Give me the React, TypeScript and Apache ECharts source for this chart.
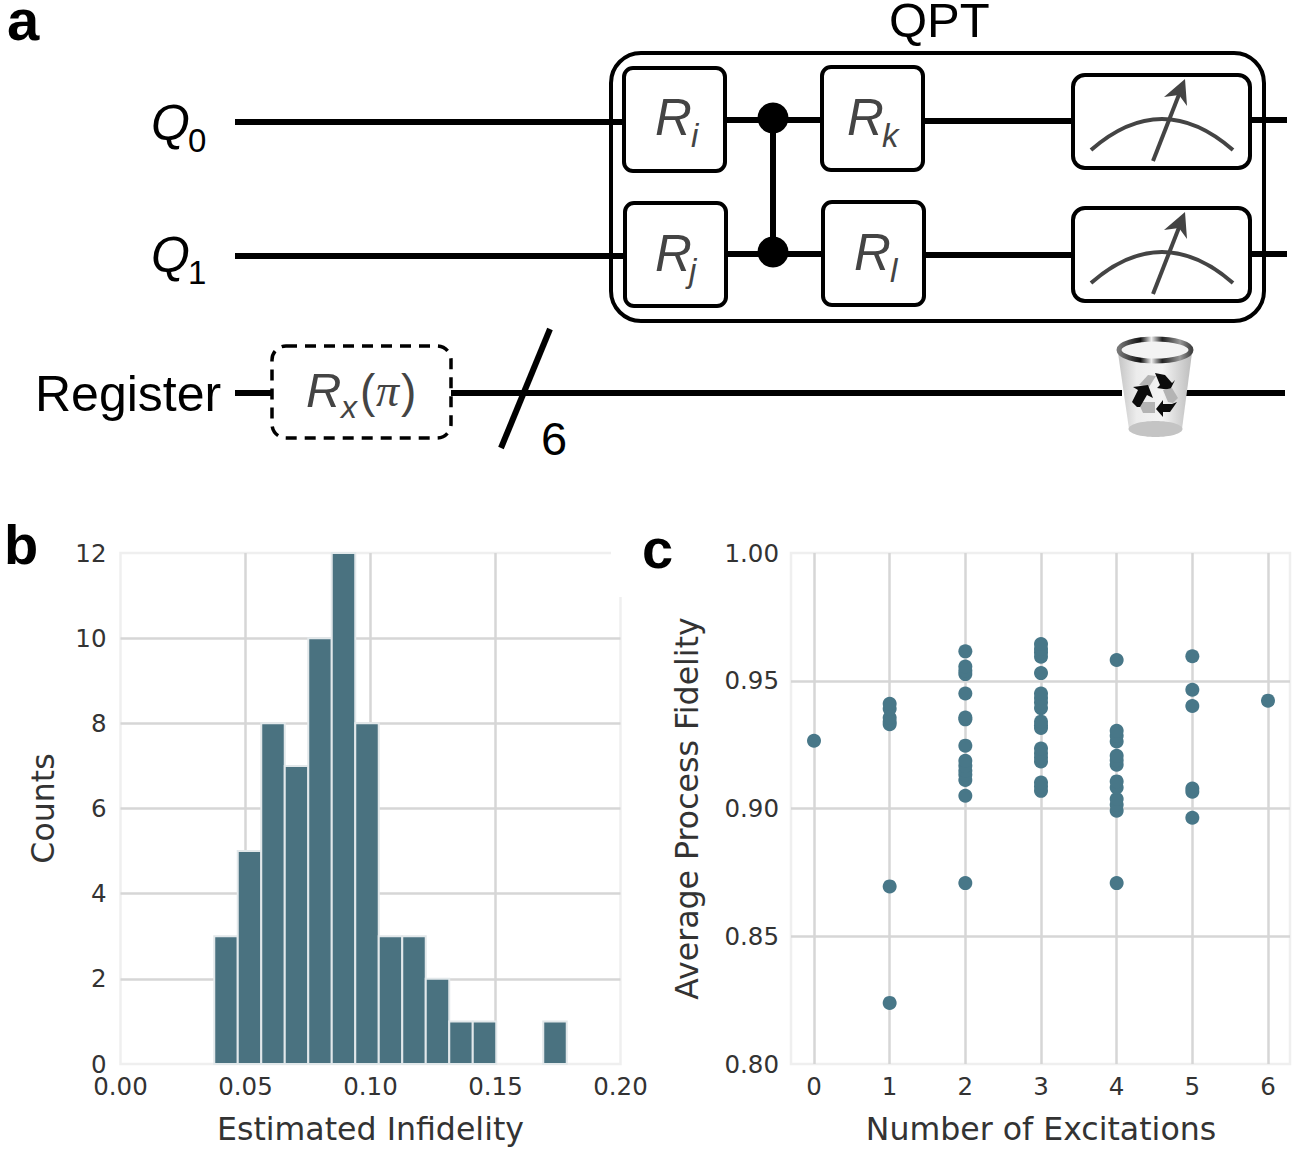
import React, { useEffect, useRef } from "react";
import * as echarts from "echarts";

const binEdges = [0.0375, 0.0469, 0.0563, 0.0657, 0.0751, 0.0845, 0.0939, 0.1033, 0.1127, 0.1221, 0.1315, 0.1409, 0.1503, 0.1597, 0.1691, 0.1785];
const binCounts = [3, 5, 8, 7, 10, 12, 8, 3, 3, 2, 1, 1, 0, 0, 1];

const fidelity0 = [0.9265];
const fidelity1 = [0.8239, 0.8695, 0.933, 0.934, 0.9355, 0.939, 0.941];
const fidelity2 = [0.8708, 0.905, 0.9112, 0.9132, 0.9148, 0.9167, 0.9187, 0.9246, 0.9349, 0.9356, 0.945, 0.9526, 0.9539, 0.9556, 0.9615];
const fidelity3 = [0.9069, 0.9086, 0.9102, 0.9184, 0.92, 0.9216, 0.9235, 0.9315, 0.9326, 0.934, 0.9393, 0.9415, 0.9432, 0.945, 0.953, 0.9594, 0.9611, 0.9624, 0.9644];
const fidelity4 = [0.8708, 0.8991, 0.9015, 0.9037, 0.9082, 0.9106, 0.9171, 0.9189, 0.9206, 0.9262, 0.9285, 0.9304, 0.9581];
const fidelity5 = [0.8964, 0.9066, 0.9078, 0.9401, 0.9465, 0.9596];
const fidelity6 = [0.9422];
const fidelityByExcitation = [fidelity0, fidelity1, fidelity2, fidelity3, fidelity4, fidelity5, fidelity6];

const SANS = '"Liberation Sans"';
const AXIS_FONT = '"DejaVu Sans"';
const BAR = "#4a7280";
const DOT = "#487788";
const GRID = "#d6d6d6";
const FRAME = "#efefef";
const INK = "#333";

function txt(text: string, x: number, base: number, size: number, o: any = {}) {
  return {
    type: "text", x, y: base - 0.35 * size, z: 20,
    style: {
      text, font: `${o.style || ""} ${o.weight || ""} ${size}px ${o.family || SANS}`,
      fill: o.fill || "#000", align: o.align || "left", verticalAlign: "middle",
      lineHeight: o.lh || size,
    },
  };
}
function ln(x1: number, y1: number, x2: number, y2: number, w = 6, stroke = "#000", z = 5) {
  return { type: "line", z, shape: { x1, y1, x2, y2 }, style: { stroke, lineWidth: w } };
}
function box(x: number, y: number, w: number, h: number, r: number, extra: any = {}, lw = 4) {
  return {
    type: "rect", z: extra.z || 8, shape: { x, y, width: w, height: h, r },
    style: { fill: extra.fill === undefined ? "#fff" : extra.fill, stroke: "#000", lineWidth: lw, lineDash: extra.dash },
  };
}
function meter(dy: number) {
  const c = "#444";
  return [
    box(1073, 75 + dy, 177, 93, 12),
    { type: "bezierCurve", z: 10, shape: { x1: 1091, y1: 150 + dy, x2: 1233, y2: 150 + dy, cpx1: 1162, cpy1: 88 + dy }, style: { stroke: c, lineWidth: 4, fill: "none" } },
    ln(1153, 161 + dy, 1180, 92 + dy, 4, c, 10),
    { type: "polygon", z: 11, shape: { points: [[1185, 79 + dy], [1187, 106 + dy], [1179, 95 + dy], [1164, 97 + dy]] }, style: { fill: c } },
  ];
}
function dot(cx: number, cy: number) {
  return { type: "circle", z: 10, shape: { cx, cy, r: 15.5 }, style: { fill: "#000" } };
}

const panelA = () => {
  const greyBody = new echarts.graphic.LinearGradient(0, 0, 1, 0, [
    { offset: 0, color: "#c4c4c4" }, { offset: 0.25, color: "#ececec" },
    { offset: 0.6, color: "#f4f4f4" }, { offset: 1, color: "#bcbcbc" },
  ]);
  const rim = new echarts.graphic.LinearGradient(0, 0, 1, 0, [
    { offset: 0, color: "#777" }, { offset: 0.3, color: "#111" }, { offset: 0.45, color: "#eee" },
    { offset: 0.6, color: "#222" }, { offset: 0.85, color: "#999" }, { offset: 1, color: "#444" },
  ]);
  const grey = "#b4b4b4";
  const black = "#0c0c0c";
  const poly = (points: number[][], fill: string, z = 16) => ({ type: "polygon", z, shape: { points }, style: { fill } });
  const ink = "#444";
  return [
    txt("a", 7, 40, 58, { weight: "bold", lh: 36 }),
    txt("b", 4, 564, 56, { weight: "bold" }),
    txt("c", 642, 568, 56, { weight: "bold" }),
    txt("QPT", 889, 37, 49, { lh: 38 }),

    ln(235, 122, 624, 122), ln(235, 256, 626, 256), ln(235, 393, 272, 393), ln(450, 393, 1122, 393), ln(1186, 393, 1285, 393),
    ln(725, 120, 824, 120), ln(923, 121, 1075, 121), ln(1250, 120, 1287, 120),
    ln(726, 254, 824, 254), ln(924, 255, 1075, 255), ln(1250, 254, 1287, 254),
    ln(501, 448, 550, 329, 6, "#000", 12),

    { type: "rect", z: 6, shape: { x: 611, y: 53, width: 653, height: 268, r: 30 }, style: { fill: "none", stroke: "#000", lineWidth: 4 } },
    box(624, 68, 101, 103, 9), box(625, 203, 101, 103, 9), box(822, 67, 101, 103, 9), box(823, 202, 101, 103, 9),
    ...meter(0), ...meter(133),
    ln(773, 118, 773, 252, 6, "#000", 9), dot(773, 118), dot(773, 252),
    box(272, 346, 179, 92, 14, { dash: [11, 8], fill: "#fff" }, 3.5),

    txt("Q", 151, 140, 50, { style: "italic" }), txt("0", 188, 152, 33),
    txt("Q", 151, 272, 50, { style: "italic" }), txt("1", 188, 284, 33),
    txt("Register", 35, 411, 50),
    txt("6", 541, 455, 47),

    txt("R", 655, 135, 51, { style: "italic", fill: ink }), txt("i", 691, 147, 33, { style: "italic", fill: ink }),
    txt("R", 655, 271, 51, { style: "italic", fill: ink }), txt("j", 689, 282, 33, { style: "italic", fill: ink }),
    txt("R", 847, 135, 51, { style: "italic", fill: ink }), txt("k", 882, 147, 33, { style: "italic", fill: ink }),
    txt("R", 854, 270, 51, { style: "italic", fill: ink }), txt("l", 890, 282, 33, { style: "italic", fill: ink }),
    txt("R", 306, 407, 49, { style: "italic", fill: ink }), txt("x", 341, 418, 32, { style: "italic", fill: ink }),
    txt("(", 360, 407, 46, { fill: ink }),
    txt("π", 376, 407, 46, { style: "italic", fill: ink, family: '"Liberation Serif"' }),
    txt(")", 401, 407, 46, { fill: ink }),

    { type: "polygon", z: 14, shape: { points: [[1118, 353], [1192, 353], [1182, 429], [1129, 429]] }, style: { fill: greyBody } },
    { type: "ellipse", z: 15, shape: { cx: 1155.5, cy: 429, rx: 27, ry: 8 }, style: { fill: "#c4c4c4" } },
    { type: "ellipse", z: 15, shape: { cx: 1155, cy: 350, rx: 36, ry: 11 }, style: { fill: "#f3f3f3", stroke: rim, lineWidth: 5 } },
    poly([[1139, 385], [1148, 375], [1156, 376], [1149, 387]], grey),
    poly([[1155, 373], [1165, 375], [1172, 383], [1175, 380], [1170, 390], [1157, 388], [1160, 385]], black),
    poly([[1163, 390], [1172, 388], [1178, 398], [1173, 403], [1168, 402]], grey),
    poly([[1177, 402], [1170, 412], [1163, 412], [1163, 417], [1156, 409], [1163, 400], [1163, 404], [1172, 404]], black),
    poly([[1138, 402], [1155, 402], [1155, 413], [1143, 413]], grey),
    poly([[1132, 402], [1138, 390], [1133, 387], [1148, 385], [1153, 398], [1147, 395], [1140, 407], [1137, 407]], black),

    // The reference frame of panel b is cut away in its top-right corner.
    { type: "rect", z: 3, shape: { x: 611, y: 545, width: 20, height: 52 }, style: { fill: "#fff" } },
  ];
};

const axisCommon = (name: string, nameGap: number) => ({
  name,
  nameLocation: "middle" as const,
  nameGap,
  nameTextStyle: { fontFamily: AXIS_FONT, fontSize: 31.6, color: INK },
  axisLine: { show: false },
  axisTick: { show: false },
  axisLabel: { fontFamily: AXIS_FONT, fontSize: 24.5, color: INK },
});

export default function App() {
  const ref = useRef<HTMLDivElement>(null);
  useEffect(() => {
    const chart = echarts.init(ref.current!, undefined, { renderer: "svg" });
    const split = { show: true, showMinLine: false, showMaxLine: false, lineStyle: { color: GRID, width: 2.5 } };
    const label = axisCommon("", 0).axisLabel;
    const barData = binCounts.map((c, i) => [binEdges[i], binEdges[i + 1], c]).filter((d) => d[2] > 0);
    const points = fidelityByExcitation.flatMap((vals, n) => vals.map((v) => [n, v]));
    chart.setOption({
      animation: false,
      backgroundColor: "#fff",
      graphic: { elements: panelA() },
      grid: [
        { left: 120.5, top: 553, width: 500, height: 511, show: true, borderColor: FRAME, borderWidth: 2.5, backgroundColor: "transparent" },
        // Outer frame of panel c: it carries the fidelity axis, which runs past the first and last excitation number.
        { left: 791, top: 553, width: 499, height: 511, show: true, borderColor: FRAME, borderWidth: 2.5, backgroundColor: "transparent" },
        // Inner grid of panel c: it spans excitation numbers 0 to 6 only.
        { left: 814, top: 553, width: 454, height: 511 },
      ],
      xAxis: [
        { ...axisCommon("Estimated Infidelity", 49), gridIndex: 0, type: "value", min: 0, max: 0.2, interval: 0.05, splitLine: split,
          axisLabel: { ...label, margin: 10, formatter: (v: number) => v.toFixed(2) } },
        { gridIndex: 1, type: "value", min: 0, max: 1, show: false },
        { ...axisCommon("Number of Excitations", 49), gridIndex: 2, type: "value", min: 0, max: 6, interval: 1,
          splitLine: { ...split, showMinLine: true, showMaxLine: true },
          axisLabel: { ...label, margin: 10, showMinLabel: true, showMaxLabel: true } },
      ],
      yAxis: [
        { ...axisCommon("Counts", 62), gridIndex: 0, type: "value", min: 0, max: 12, interval: 2, splitLine: split,
          axisLabel: { ...label, margin: 14, padding: [0, 0, 3, 0] } },
        { ...axisCommon("Average Process Fidelity", 88), gridIndex: 1, type: "value", min: 0.8, max: 1.0, interval: 0.05, splitLine: split,
          axisLabel: { ...label, margin: 12, padding: [0, 0, 4, 0], formatter: (v: number) => v.toFixed(2) } },
        { gridIndex: 2, type: "value", min: 0.8, max: 1.0, show: false, splitLine: { show: false } },
      ],
      series: [
        {
          type: "custom", xAxisIndex: 0, yAxisIndex: 0, data: barData, clip: false, encode: { x: [0, 1], y: 2 },
          renderItem: (_p: any, api: any) => {
            const a = api.coord([api.value(0), api.value(2)]);
            const b = api.coord([api.value(1), 0]);
            return {
              type: "rect",
              shape: { x: a[0], y: a[1], width: b[0] - a[0], height: b[1] - a[1] },
              style: { fill: BAR, stroke: "#e2e8ea", lineWidth: 2 },
            };
          },
        },
        {
          type: "scatter", xAxisIndex: 2, yAxisIndex: 2, data: points, symbolSize: 14,
          clip: false, itemStyle: { color: DOT, opacity: 1 },
        },
      ],
    });
    return () => chart.dispose();
  }, []);
  return <div ref={ref} style={{ position: "absolute", left: 0, top: 0, width: 1298, height: 1152 }} />;
}
